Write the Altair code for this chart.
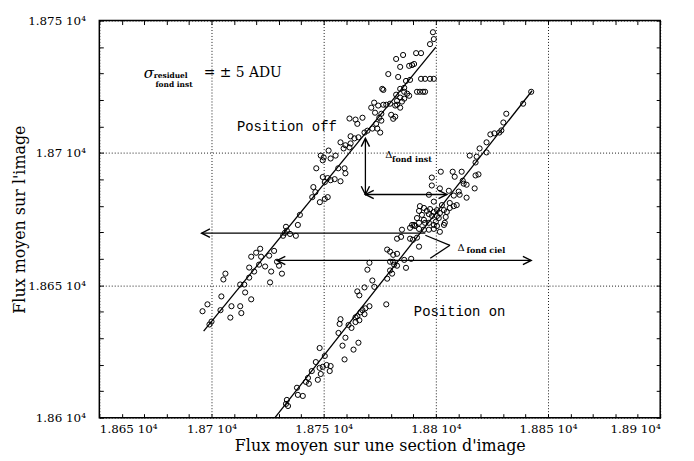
import altair as alt
import pandas as pd

# ---------------- data ----------------
off_x = [18696.0, 18698.2, 18704.4, 18704.0, 18706.2, 18705.3, 18708.9, 18712.8, 18713.3, 18715.0,
         18717.7, 18712.8, 18714.6, 18716.8, 18719.0, 18717.7, 18719.9, 18722.1, 18721.2, 18723.9,
         18725.7, 18726.6, 18729.2, 18730.1, 18731.4, 18726.1, 18699.1, 18700.0, 18708.4, 18721.7,
         18727.9, 18716.8, 18733.2, 18733.6, 18732.7, 18731.9, 18737.6, 18738.5, 18735.0, 18739.4,
         18765.5, 18763.7, 18762.0, 18757.5, 18759.7, 18761.5, 18758.9, 18762.0, 18748.7, 18750.0,
         18749.6, 18753.1, 18755.3, 18752.2, 18746.7, 18756.5, 18759.3, 18759.7, 18749.6, 18750.5,
         18751.8, 18753.1, 18754.9, 18757.5, 18745.4, 18746.3, 18744.9, 18748.3, 18750.5, 18751.8,
         18798.7, 18799.1, 18797.4, 18793.4, 18791.2, 18785.4, 18782.3, 18784.1, 18788.1, 18789.4,
         18790.3, 18778.8, 18783.2, 18786.7, 18788.5, 18793.4, 18795.2, 18797.4, 18799.1, 18776.1,
         18776.6, 18784.1, 18785.9, 18785.9, 18787.2, 18788.1, 18791.6, 18792.9, 18794.3, 18795.2,
         18782.3, 18784.1, 18782.7, 18784.9, 18785.9, 18772.5, 18771.2, 18774.3, 18776.6, 18777.9,
         18779.6, 18781.9, 18782.7, 18784.1, 18772.9, 18775.7, 18780.1, 18781.9, 18781.0, 18774.8,
         18775.7, 18773.4, 18773.9, 18775.2, 18771.7, 18769.5, 18768.2, 18761.5, 18764.2, 18767.3,
         18765.0]
off_y = [18640.2, 18642.8, 18645.8, 18640.6, 18654.4, 18652.2, 18642.1, 18642.1, 18639.5, 18647.3,
         18644.7, 18650.3, 18650.3, 18652.9, 18655.2, 18660.8, 18662.3, 18660.8, 18657.8, 18657.1,
         18661.2, 18655.2, 18658.9, 18657.4, 18654.4, 18651.1, 18635.2, 18636.3, 18637.8, 18663.8,
         18663.0, 18656.7, 18672.1, 18670.6, 18669.8, 18668.7, 18668.7, 18672.8, 18669.4, 18676.6,
         18705.9, 18705.5, 18706.3, 18704.0, 18702.9, 18702.1, 18701.7, 18703.6, 18699.0, 18698.3,
         18697.2, 18697.9, 18699.0, 18700.9, 18694.2, 18694.2, 18694.2, 18692.3, 18690.9, 18689.0,
         18690.5, 18689.7, 18690.1, 18689.3, 18687.1, 18685.2, 18683.3, 18681.4, 18682.6, 18683.3,
         18745.6, 18743.0, 18741.1, 18737.7, 18737.7, 18737.0, 18735.5, 18732.5, 18732.9, 18733.2,
         18733.6, 18729.8, 18728.7, 18727.2, 18727.6, 18728.0, 18728.0, 18728.0, 18728.0, 18724.2,
         18723.8, 18724.2, 18724.6, 18723.1, 18722.4, 18721.6, 18723.1, 18723.1, 18723.1, 18723.1,
         18722.0, 18720.9, 18719.7, 18719.4, 18720.5, 18719.0, 18717.1, 18717.9, 18718.2, 18718.2,
         18718.6, 18717.9, 18718.2, 18717.1, 18715.2, 18714.8, 18714.4, 18713.7, 18712.9, 18713.3,
         18712.2, 18711.0, 18709.2, 18707.7, 18709.2, 18708.4, 18707.7, 18713.0, 18712.6, 18713.3,
         18711.0]

on_x = [18765.0, 18765.9, 18770.4, 18768.6, 18767.3, 18766.4, 18765.0, 18764.2, 18765.9, 18764.2,
        18768.2, 18757.5, 18757.1, 18761.1, 18762.4, 18756.6, 18759.7, 18758.4, 18763.3, 18765.5,
        18759.3, 18748.2, 18750.5, 18751.3, 18753.1, 18749.6, 18748.2, 18752.7, 18748.7, 18744.7,
        18743.0, 18743.4, 18747.4, 18738.1, 18738.5, 18740.7, 18733.6, 18733.2, 18734.1, 18746.5,
        18742.1,
        18768.2, 18772.6, 18771.7, 18769.5, 18770.4, 18777.9, 18778.3, 18779.6, 18781.0, 18782.7,
        18781.0, 18781.4, 18782.7, 18785.9, 18786.7, 18789.0, 18779.6, 18779.6, 18780.5, 18778.3,
        18792.5, 18789.8, 18784.9, 18784.5, 18782.7, 18788.5, 18791.6, 18790.3, 18792.5, 18800.5,
        18801.8, 18803.6, 18792.9, 18794.7, 18792.5, 18796.0, 18797.4, 18799.1, 18796.9, 18798.3,
        18800.5, 18801.8, 18793.8, 18791.6, 18794.7, 18789.4, 18790.7, 18795.2, 18796.9, 18799.1,
        18800.0, 18801.3, 18803.6, 18804.9, 18806.2, 18808.0, 18804.4, 18804.0, 18799.1, 18796.9,
        18794.7, 18792.5, 18788.5,
        18842.5, 18838.9, 18831.4, 18830.1, 18829.2, 18828.3, 18826.1, 18824.3, 18822.6, 18819.5,
        18822.6, 18815.1, 18818.2, 18817.7, 18819.0, 18817.7, 18817.3, 18811.5, 18808.4, 18807.5,
        18802.2, 18798.2, 18812.4, 18813.7, 18812.0, 18810.2, 18810.6, 18813.7, 18805.8, 18808.0,
        18798.2, 18801.8, 18796.9, 18799.1, 18806.2, 18809.3, 18802.7, 18800.5]
on_y = [18647.7, 18646.2, 18642.1, 18641.3, 18640.6, 18639.8, 18638.3, 18637.9, 18636.8, 18636.1,
        18639.1, 18637.2, 18635.4, 18635.0, 18633.9, 18632.0, 18630.2, 18627.2, 18625.7, 18628.3,
        18622.0, 18626.3, 18623.3, 18619.9, 18619.5, 18619.2, 18618.8, 18617.6, 18616.5, 18617.6,
        18615.0, 18612.8, 18614.3, 18611.3, 18608.6, 18608.2, 18606.7, 18605.2, 18604.4, 18621.0,
        18613.5,
        18649.2, 18649.4, 18651.8, 18655.9, 18658.5, 18642.8, 18663.5, 18662.7, 18661.5, 18661.9,
        18658.9, 18657.8, 18657.4, 18659.6, 18656.6, 18660.0, 18658.9, 18655.6, 18654.4, 18652.5,
        18664.6, 18667.2, 18671.0, 18668.3, 18667.6, 18667.6, 18668.0, 18672.8, 18673.6, 18672.4,
        18670.2, 18672.8, 18679.9, 18679.2, 18678.1, 18678.1, 18678.8, 18677.7, 18676.9, 18676.2,
        18676.2, 18677.3, 18676.6, 18675.4, 18674.7, 18672.8, 18672.4, 18673.6, 18673.6, 18672.8,
        18674.0, 18675.4, 18678.4, 18677.7, 18679.2, 18679.9, 18675.8, 18673.6, 18671.3, 18671.0,
        18671.0, 18671.3, 18671.7,
        18723.1, 18718.6, 18714.8, 18711.5, 18708.5, 18707.7, 18707.4, 18707.0, 18704.0, 18701.7,
        18700.2, 18699.0, 18698.6, 18696.4, 18691.9, 18691.5, 18686.6, 18692.9, 18691.0, 18692.9,
        18692.9, 18690.7, 18688.4, 18688.0, 18689.5, 18685.4, 18684.2, 18683.1, 18685.7, 18683.9,
        18687.7, 18686.6, 18684.2, 18681.6, 18681.1, 18680.3, 18680.3, 18678.4]

# straight segments: two fitted lines, arrows and the bracket
seg_x = [18696.5, 18728.3, 18695.6, 18729.2, 18768.6, 18768.6, 18795.3, 18806.3]
seg_x2 = [18800.0, 18842.9, 18795.3, 18842.5, 18768.6, 18804.9, 18806.3, 18797.5]
seg_y = [18632.7, 18600.0, 18669.7, 18659.4, 18684.3, 18684.3, 18668.9, 18665.1]
seg_y2 = [18740.0, 18723.5, 18669.7, 18659.4, 18705.5, 18684.3, 18665.1, 18660.2]

# arrow heads: position and direction (degrees, 0 = pointing left)
head_x = [18695.6, 18729.2, 18842.5, 18768.6, 18768.6, 18768.6, 18804.9]
head_y = [18669.7, 18659.4, 18659.4, 18705.5, 18684.3, 18684.3, 18684.3]
head_dir = [0, 0, 180, 90, 270, 0, 180]

# annotations
ann_text = ["σ", "residuel", "fond inst", "= ± 5 ADU", "Position off", "Position on",
            "Δ", "fond inst", "Δ", "fond ciel"]
ann_x = [18672.1, 18674.3, 18675.0, 18696.5, 18733.6, 18810.6, 18777.4, 18780.5, 18809.7, 18813.7]
ann_y = [18730.2, 18728.9, 18725.8, 18730.2, 18709.8, 18639.8, 18699.3, 18697.4, 18664.0, 18663.0]

x_major = [18650, 18700, 18750, 18800, 18850, 18900]
y_major = [18600, 18650, 18700, 18750]
x_minor = list(range(18650, 18901, 10))
y_minor = list(range(18600, 18751, 10))

# ---------------- tables ----------------
pts = pd.DataFrame({"x": off_x + on_x, "y": off_y + on_y})
segs = pd.DataFrame({"x": seg_x, "x2": seg_x2, "y": seg_y, "y2": seg_y2})
heads = pd.DataFrame({"x": head_x, "y": head_y, "ang": head_dir})
ann = pd.DataFrame({"t": ann_text, "x": ann_x, "y": ann_y})

xs = alt.Scale(domain=[18650, 18900], nice=False, zero=False)
ys = alt.Scale(domain=[18600, 18750], nice=False, zero=False)
SERIF = "DejaVu Serif"
LBL = "format(datum.value/10000, '.4~f') + ' 10⁴'"

x_main = alt.Axis(values=x_major, labelExpr=LBL, ticks=False, domain=False, grid=True,
                  gridDash=[1, 2], gridColor="black", gridWidth=1, gridOpacity=0.9,
                  labelFont=SERIF, labelFontSize=12, labelColor="black", labelPadding=6,
                  title="Flux moyen sur une section d'image", titleFont=SERIF,
                  titleFontSize=16, titleFontWeight="normal", titleColor="black",
                  titlePadding=3)
y_main = alt.Axis(values=y_major, labelExpr=LBL, ticks=False, domain=False, grid=True,
                  gridDash=[1, 2], gridColor="black", gridWidth=1, gridOpacity=0.9,
                  labelFont=SERIF, labelFontSize=12, labelColor="black", labelPadding=14,
                  title="Flux moyen sur l'image", titleFont=SERIF,
                  titleFontSize=16, titleFontWeight="normal", titleColor="black",
                  titleX=-80, titleY=200, titleBaseline="middle", titleAngle=270)

points = alt.Chart(pts).mark_point(shape="circle", filled=False, color="black",
                                   size=27, strokeWidth=1, opacity=1).encode(
    x=alt.X("x:Q", scale=xs, axis=x_main),
    y=alt.Y("y:Q", scale=ys, axis=y_main),
)

rules = alt.Chart(segs).mark_rule(color="black", strokeWidth=1.3).encode(
    x=alt.X("x:Q", scale=xs, axis=None), x2="x2:Q",
    y=alt.Y("y:Q", scale=ys, axis=None), y2="y2:Q",
)

arrowheads = alt.Chart(heads).mark_point(shape="M 2 -1 L 0 0 L 2 1", filled=False,
                                         color="black", size=70, strokeWidth=1.4,
                                         opacity=1).encode(
    x=alt.X("x:Q", scale=xs, axis=None),
    y=alt.Y("y:Q", scale=ys, axis=None),
    angle=alt.Angle("ang:Q", scale=None),
)


def txt(i, **kw):
    return alt.Chart(ann.iloc[[i]]).mark_text(color="black", **kw).encode(
        x=alt.X("x:Q", scale=xs, axis=None),
        y=alt.Y("y:Q", scale=ys, axis=None),
        text="t:N",
    )


texts = [
    txt(0, font=SERIF, fontSize=15, fontStyle="italic", align="center", baseline="middle"),
    txt(1, font=SERIF, fontSize=7.5, fontWeight="bold", align="left", baseline="middle"),
    txt(2, font=SERIF, fontSize=7.5, fontWeight="bold", align="left", baseline="middle"),
    txt(3, font=SERIF, fontSize=14, align="left", baseline="middle"),
    txt(4, font="Liberation Mono", fontSize=14, align="center", baseline="middle"),
    txt(5, font="Liberation Mono", fontSize=14, align="center", baseline="middle"),
    txt(6, font=SERIF, fontSize=10, align="left", baseline="middle"),
    txt(7, font=SERIF, fontSize=8, fontWeight="bold", align="left", baseline="middle"),
    txt(8, font=SERIF, fontSize=10, align="left", baseline="middle"),
    txt(9, font=SERIF, fontSize=8, fontWeight="bold", align="left", baseline="middle"),
]


def tick_layer(xaxis, yaxis):
    return alt.Chart(pts).mark_point(opacity=0, size=1).encode(
        x=alt.X("x:Q", scale=xs, axis=xaxis),
        y=alt.Y("y:Q", scale=ys, axis=yaxis),
    )


def tick_axis(orient, vals):
    return alt.Axis(orient=orient, values=vals, labels=False, domain=False, grid=False,
                    ticks=True, tickSize=4, offset=-4, tickColor="black", tickWidth=1,
                    title=None)


ticks = [
    tick_layer(tick_axis("bottom", x_minor), None),
    tick_layer(tick_axis("top", x_minor), None),
    tick_layer(None, tick_axis("left", y_minor)),
    tick_layer(None, tick_axis("right", y_minor)),
]

chart = alt.layer(points, rules, arrowheads, *texts, *ticks).resolve_axis(
    x="independent", y="independent"
).properties(
    width=565, height=400,
    autosize=alt.AutoSizeParams(type="none"),
    padding={"left": 92, "top": 11, "right": 26, "bottom": 42},
    background="white",
).configure_view(stroke="black", strokeWidth=1.5)

chart.save("out.html", embed_options={"renderer": "svg", "actions": False})
